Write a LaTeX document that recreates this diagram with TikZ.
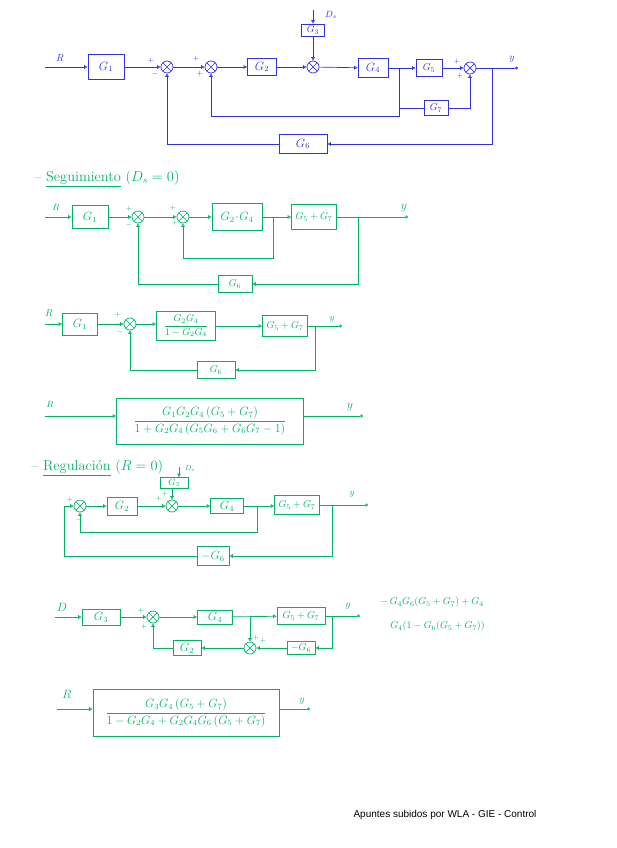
\documentclass[tikz,border=0pt]{standalone}
\usepackage{amsmath}
\usepackage{fontspec}
\usetikzlibrary{arrows.meta}
\definecolor{handblue}{RGB}{50,50,225}
\definecolor{handgreen}{RGB}{0,180,100}
\newfontfamily\notefont{Liberation Sans}

\begin{document}
\begin{tikzpicture}[x=1pt, y=-1pt, line width=0.7pt,
    >={Triangle[open,length=3.5pt,width=3.5pt]},
    blk/.style={draw, inner sep=1pt, font=\large},
    sumnode/.style={draw, circle, minimum size=12pt, inner sep=0pt,
      path picture={\draw (path picture bounding box.north west) -- (path picture bounding box.south east)
        (path picture bounding box.north east) -- (path picture bounding box.south west);}},
    sgn/.style={font=\scriptsize, inner sep=0pt},
    lbl/.style={font=\normalsize, inner sep=0pt},
    outend/.style={-{Circle[open,length=3pt]}}]
\useasboundingbox (0,0) rectangle (616,848);

% Complete diagram
\begin{scope}[handblue]
  \coordinate (ra) at (45,67);
  \node[lbl] (rlaba) at (60,58) {$R$};
  \node[blk, minimum width=36, minimum height=25] (g1a) at (106,67) {$G_1$};
  \node[sumnode] (s1a) at (167,67) {};
  \node[sumnode] (s2a) at (211,67) {};
  \node[blk, minimum width=29, minimum height=17] (g2a) at (262,67) {$G_2$};
  \node[sumnode] (s3a) at (313,67) {};
  \node[blk, minimum width=23, minimum height=12, font=\normalsize] (g3a) at (313,30) {$G_3$};
  \coordinate (dsa) at (313,10);
  \node[lbl, font=\small] (dslaba) at (331,15) {$D_s$};
  \node[blk, minimum width=30, minimum height=19] (g4a) at (373,68) {$G_4$};
  \node[blk, minimum width=26, minimum height=17, font=\normalsize] (g5a) at (429,68) {$G_5$};
  \node[sumnode] (s4a) at (470,68) {};
  \node[blk, minimum width=24, minimum height=15, font=\normalsize] (g7a) at (436,108) {$G_7$};
  \node[blk, minimum width=48, minimum height=19] (g6a) at (303,144) {$G_6$};
  \coordinate (ya) at (518,68);
  \node[lbl] (ylaba) at (512,59) {$y$};
  \coordinate (b4a) at (399,68);
  \coordinate (b4da) at (399,116);
  \coordinate (b5a) at (492,68);

  \draw[->] (ra) -- (g1a);
  \draw[->] (g1a) -- (s1a);
  \draw[->] (s1a) -- (s2a);
  \draw[->] (s2a) -- (g2a);
  \draw[->] (g2a) -- (s3a);
  \draw[->] (dsa) -- (g3a);
  \draw[->] (g3a) -- (s3a);
  \draw[->] (s3a) -- (g4a);
  \draw[->] (g4a) -- (g5a);
  \draw[->] (g5a) -- (s4a);
  \draw[outend] (s4a) -- (ya);
  \draw[->] (b4a) -- (b4da) -| (s2a);
  \draw (b4a |- g7a) -- (g7a);
  \draw[->] (g7a) -| (s4a);
  \draw[->] (b5a) |- (g6a);
  \draw[->] (g6a) -| (s1a);

  \node[sgn] (p1a) at (151,61) {$+$};
  \node[sgn] (m1a) at (155,74) {$-$};
  \node[sgn] (p2a) at (196,59) {$+$};
  \node[sgn] (p3a) at (200,74) {$+$};
  \node[sgn] (p4a) at (457,62) {$+$};
  \node[sgn] (p5a) at (460,76) {$+$};
\end{scope}

% Seguimiento
\begin{scope}[handgreen]
  \node[font=\Large, anchor=west, inner sep=0pt] (titb) at (34,179) {-- \underline{Seguimiento}\ ($D_s=0$)};
  \coordinate (rb) at (45,217);
  \node[lbl, font=\small] (rlabb) at (56,207) {$R$};
  \node[blk, minimum width=36, minimum height=23] (g1b) at (90,217) {$G_1$};
  \node[sumnode] (s1b) at (138,217) {};
  \node[sumnode] (s2b) at (183,217) {};
  \node[blk, minimum width=50, minimum height=27] (g24b) at (237,217) {$G_2\!\cdot\!G_4$};
  \node[blk, minimum width=45, minimum height=25, font=\normalsize] (g57b) at (314,217) {$G_5+G_7$};
  \node[blk, minimum width=34, minimum height=17, font=\normalsize] (g6b) at (235,284) {$G_6$};
  \coordinate (yb) at (408,217);
  \node[lbl, font=\large] (ylabb) at (404,208) {$y$};
  \coordinate (b1b) at (273,217);
  \coordinate (b1db) at (273,258);
  \coordinate (b2b) at (358,217);

  \draw[->] (rb) -- (g1b);
  \draw[->] (g1b) -- (s1b);
  \draw[->] (s1b) -- (s2b);
  \draw[->] (s2b) -- (g24b);
  \draw[->] (g24b) -- (g57b);
  \draw[outend] (g57b) -- (yb);
  \draw[->] (b1b) -- (b1db) -| (s2b);
  \draw[->] (b2b) |- (g6b);
  \draw[->] (g6b) -| (s1b);

  \node[sgn] (p1b) at (129,209) {$+$};
  \node[sgn] (m1b) at (129,225) {$-$};
  \node[sgn] (p2b) at (173,208) {$+$};
  \node[sgn] (p3b) at (175,223) {$+$};
\end{scope}

% Reduced loop
\begin{scope}[handgreen]
  \coordinate (rc) at (45,324);
  \node[lbl] (rlabc) at (49,313) {$R$};
  \node[blk, minimum width=35, minimum height=22] (g1c) at (80,324) {$G_1$};
  \node[sumnode] (sc) at (130,324) {};
  \node[blk, minimum width=59, minimum height=29, font=\normalsize] (fc) at (186,326) {$\dfrac{G_2G_4}{1-G_2G_4}$};
  \node[blk, minimum width=45, minimum height=21, font=\normalsize] (g57c) at (285,326) {$G_5+G_7$};
  \node[blk, minimum width=38, minimum height=17, font=\normalsize] (g6c) at (216,370) {$G_6$};
  \coordinate (yc) at (342,326);
  \node[lbl, font=\small] (ylabc) at (332,319) {$y$};
  \coordinate (bc) at (315,326);

  \draw[->] (rc) -- (g1c);
  \draw[->] (g1c) -- (sc);
  \draw[->] (sc) -- (sc -| fc.west);
  \draw[->] (fc) -- (g57c);
  \draw[outend] (g57c) -- (yc);
  \draw[->] (bc) |- (g6c);
  \draw[->] (g6c) -| (sc);

  \node[sgn] (p1c) at (118,315) {$+$};
  \node[sgn] (m1c) at (120,332) {$-$};
\end{scope}

% Closed loop, tracking
\begin{scope}[handgreen]
  \node[blk, minimum width=187, minimum height=46, font=\large] (tfd) at (210,421)
    {$\dfrac{G_1G_2G_4\,(G_5+G_7)}{1+G_2G_4\,(G_5G_6+G_6G_7-1)}$};
  \coordinate (rd) at (45,416);
  \node[lbl, font=\small] (rlabd) at (50,404) {$R$};
  \coordinate (yd) at (363,416);
  \node[lbl, font=\large] (ylabd) at (350,407) {$y$};
  \draw[->] (rd) -- (rd -| tfd.west);
  \draw[outend] (tfd.east |- yd) -- (yd);
\end{scope}

% Regulacion
\begin{scope}[handgreen]
  \node[font=\Large, anchor=west, inner sep=0pt] (tite) at (31,468) {-- \underline{Regulaci\'on}\ ($R=0$)};
  \node[sumnode] (sae) at (80,506) {};
  \node[blk, minimum width=30, minimum height=18] (g2e) at (122,506) {$G_2$};
  \node[sumnode] (sbe) at (172,506) {};
  \node[blk, minimum width=28, minimum height=11, font=\small] (g3e) at (174,483) {$G_3$};
  \coordinate (dse) at (179,467);
  \node[lbl, font=\scriptsize] (dslabe) at (190,469) {$D_s$};
  \node[blk, minimum width=33, minimum height=15] (g4e) at (227,506) {$G_4$};
  \node[blk, minimum width=45, minimum height=19, font=\normalsize] (g57e) at (297,505) {$G_5+G_7$};
  \node[blk, minimum width=32, minimum height=19] (g6e) at (213,556) {$-G_6$};
  \coordinate (ye) at (368,505);
  \node[lbl, font=\small] (ylabe) at (352,494) {$y$};
  \coordinate (b1e) at (257,506);
  \coordinate (b1de) at (257,532);
  \coordinate (b2e) at (332,505);
  \coordinate (ce) at (64,556);

  \draw[->] (sae) -- (g2e);
  \draw[->] (g2e) -- (sbe);
  \draw[->] (dse) -- (dse |- g3e.north);
  \draw[->] (g3e.south -| sbe) -- (sbe);
  \draw[->] (sbe) -- (g4e);
  \draw[->] (g4e) -- (g4e -| g57e.west);
  \draw[outend] (g57e) -- (ye);
  \draw[->] (b1e) -- (b1de) -| (sae);
  \draw[->] (b2e) |- (g6e);
  \draw[->] (g6e) -- (ce) |- (sae);

  \node[sgn] (p1e) at (70,500) {$+$};
  \node[sgn] (m1e) at (79,520) {$-$};
  \node[sgn] (p2e) at (159,499) {$+$};
  \node[sgn] (p3e) at (165,494) {$+$};
\end{scope}

% Regulacion, moved blocks
\begin{scope}[handgreen]
  \coordinate (rf) at (55,617);
  \node[lbl, font=\large] (rlabf) at (62,607) {$D$};
  \node[blk, minimum width=38, minimum height=16] (g3f) at (101,617) {$G_3$};
  \node[sumnode] (s1f) at (153,617) {};
  \node[blk, minimum width=35, minimum height=14] (g4f) at (215,617) {$G_4$};
  \node[blk, minimum width=48, minimum height=17, font=\normalsize] (g57f) at (301,616) {$G_5+G_7$};
  \node[blk, minimum width=28, minimum height=13, font=\normalsize] (g6f) at (301,648) {$-G_6$};
  \node[sumnode] (s2f) at (250,648) {};
  \node[blk, minimum width=28, minimum height=15] (g2f) at (187,648) {$G_2$};
  \coordinate (yf) at (360,616);
  \node[lbl] (ylabf) at (348,606) {$y$};
  \coordinate (b1f) at (250,617);
  \coordinate (b2f) at (332,616);

  \draw[->] (rf) -- (g3f);
  \draw[->] (g3f) -- (s1f);
  \draw[->] (s1f) -- (g4f);
  \draw[->] (g4f) -- (g57f);
  \draw[outend] (g57f) -- (yf);
  \draw[->] (b2f) |- (g6f);
  \draw[->] (g6f) -- (s2f);
  \draw[->] (b1f) -- (s2f);
  \draw[->] (s2f) -- (g2f);
  \draw[->] (g2f) -| (s1f);

  \node[sgn] (p1f) at (141,611) {$+$};
  \node[sgn] (p2f) at (144,627) {$+$};
  \node[sgn] (p3f) at (256,638) {$+$};
  \node[sgn] (p4f) at (263,641) {$+$};

  \node[font=\normalsize, anchor=west, inner sep=0pt] (n1f) at (380,602) {$-\,G_4G_6(G_5+G_7)+G_4$};
  \node[font=\normalsize, anchor=west, inner sep=0pt] (n2f) at (390,626) {$G_4(1-G_6(G_5+G_7))$};
\end{scope}

% Closed loop, regulation
\begin{scope}[handgreen]
  \node[blk, minimum width=186, minimum height=47, font=\large] (tfg) at (186,713)
    {$\dfrac{G_3G_4\,(G_5+G_7)}{1-G_2G_4+G_2G_4G_6\,(G_5+G_7)}$};
  \coordinate (rg) at (57,709);
  \node[lbl, font=\large] (rlabg) at (67,694) {$R$};
  \coordinate (yg) at (310,709);
  \node[lbl] (ylabg) at (302,701) {$y$};
  \draw[->] (rg) -- (rg -| tfg.west);
  \draw[outend] (tfg.east |- yg) -- (yg);
\end{scope}

% Footer
\node[font={\notefont\fontsize{10}{12}\selectfont}, text=black] (foot) at (445,815) {Apuntes subidos por WLA - GIE - Control};
\end{tikzpicture}
\end{document}
